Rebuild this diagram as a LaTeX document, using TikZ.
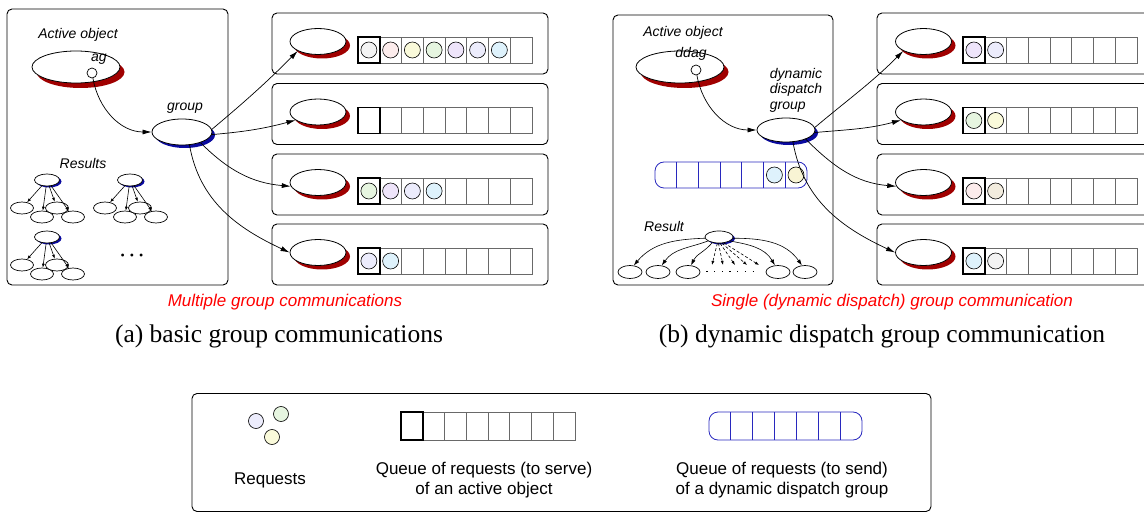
\documentclass[tikz,border=0pt]{standalone}
\usepackage{fontspec}
\setmainfont{Liberation Serif}
\setsansfont{Liberation Sans}
\usepackage{tikz}
\usetikzlibrary{shapes,arrows,positioning,shapes.geometric,arrows.meta,shadows}
\definecolor{shadowred}{RGB}{160,0,0}
\definecolor{shadowblue}{RGB}{10,10,160}
\definecolor{queueblue}{RGB}{40,40,190}
\definecolor{cellgray}{RGB}{105,105,105}
\definecolor{reqgray}{RGB}{243,243,243}
\definecolor{reqpink}{RGB}{252,236,236}
\definecolor{reqyellow}{RGB}{250,250,218}
\definecolor{reqgreen}{RGB}{230,245,224}
\definecolor{reqlilac}{RGB}{238,228,250}
\definecolor{reqblue}{RGB}{236,236,252}
\definecolor{reqcyan}{RGB}{222,242,252}
\definecolor{reqbeige}{RGB}{242,236,222}
\definecolor{reqsand}{RGB}{248,244,212}
\tikzstyle{panel} = [rectangle, draw, rounded corners=5pt, line width=0.9pt, inner sep=0pt]
\tikzstyle{line} = [draw, line width=0.7pt, -{Latex[length=9pt,width=5pt]}]

\begin{document}
\begin{tikzpicture}[x=1pt, y=-1pt]
    \tikzstyle{itext} = [font=\sffamily\itshape\fontsize{14}{15.5}\selectfont, inner sep=0pt]
    \tikzstyle{figcaption} = [font=\rmfamily\fontsize{25.5}{28}\selectfont, inner sep=0pt]
    \tikzstyle{redtext} = [font=\sffamily\itshape\fontsize{17}{20}\selectfont, text=red, inner sep=0pt]
    \tikzstyle{legendtext} = [font=\sffamily\fontsize{17}{20.5}\selectfont, align=center, inner sep=0pt]
    \tikzstyle{obj} = [ellipse, draw, fill=white, line width=0.8pt, inner sep=0pt, minimum width=56pt, minimum height=26pt, drop shadow={shadow xshift=4pt, shadow yshift=-4pt, fill=shadowred, opacity=1}]
    \tikzstyle{bigobj} = [ellipse, draw, fill=white, line width=0.8pt, inner sep=0pt, minimum width=88pt, minimum height=32pt, drop shadow={shadow xshift=4.5pt, shadow yshift=-5pt, fill=shadowred, opacity=1}]
    \tikzstyle{grp} = [ellipse, draw, fill=white, line width=0.8pt, inner sep=0pt, minimum width=60pt, minimum height=26pt, drop shadow={shadow xshift=3pt, shadow yshift=-3pt, fill=shadowblue, opacity=1}]
    \tikzstyle{resroot} = [ellipse, draw, fill=white, line width=0.7pt, inner sep=0pt, minimum width=25pt, minimum height=12pt, drop shadow={shadow xshift=2pt, shadow yshift=-1.5pt, fill=shadowblue, opacity=1}]
    \tikzstyle{resleaf} = [ellipse, draw, fill=white, line width=0.7pt, inner sep=0pt, minimum width=23pt, minimum height=12pt]
    \tikzstyle{qcell} = [rectangle, draw=cellgray, line width=0.8pt, inner sep=0pt, outer sep=0pt, minimum width=21.75pt, minimum height=26pt]
    \tikzstyle{sendq} = [rectangle, draw=queueblue, line width=0.8pt, rounded corners=9pt, inner sep=0pt, minimum height=26pt]
    \tikzstyle{req} = [circle, draw, line width=0.6pt, inner sep=0pt, minimum size=16pt]
    \tikzstyle{handle} = [circle, draw, fill=white, line width=0.7pt, inner sep=0pt, minimum size=10pt]
    \tikzstyle{midline} = [draw, line width=0.6pt, -{Latex[length=6pt,width=4pt]}]
    \tikzstyle{smallline} = [draw, line width=0.6pt, -{Latex[length=4pt,width=3pt]}]
    \tikzstyle{dashline} = [smallline, dash pattern=on 3pt off 2pt]

    \useasboundingbox (0,0) rectangle (1144,513);

    % Basic group communications
    \node [panel, minimum width=221pt, minimum height=276pt] (panela) at (117.5,147) {};
    \node [itext] (aotexta) at (78,35) {Active object};
    \node [bigobj] (aoa) at (76,67) {};
    \node [itext] (agtext) at (99,59) {ag};
    \node [handle] (ag) at (92,73) {};
    \node [grp] (group) at (182,132) {};
    \node [itext] (grouptext) at (185,108) {group};
    \path [line] (ag) to[out=-80, in=180] (group);

    % Results
    \node [itext] (resultstext) at (83,163) {Results};
    \foreach \t/\x/\y in {1/47/180, 2/130/180, 3/47/237} {
        \node [resroot] (res\t) at (\x,\y) {};
        \foreach \dx/\dy [count=\k] in {-25/28, -5/37, 10/28, 26/37} {
            \node [resleaf] (res\t-\k) at (\x+\dx,\y+\dy) {};
            \path [smallline] (res\t) -- (res\t-\k);
        }
    }
    \node [font=\fontsize{12}{12}\selectfont, inner sep=0pt] (moreres) at (132,257) {\textbullet\hspace{5pt}\textbullet\hspace{5pt}\textbullet};

    % Active objects and their queues
    \foreach \r/\y in {1/43.5, 2/114, 3/184.5, 4/254.5} {
        \node [panel, minimum width=276pt, minimum height=61pt] (boxa\r) at (410,\y) {};
        \node [obj] (obja\r) at (318,\y-2) {};
        \foreach \i in {1,...,8}
            \node [qcell] (qa\r-\i) at (347.125+21.75*\i,\y+6.5) {};
        \draw [line width=1.8pt] (qa\r-1.north west) rectangle (qa\r-1.south east);
    }
    \foreach \c [count=\i] in {reqgray, reqpink, reqyellow, reqgreen, reqlilac, reqblue, reqcyan}
        \node [req, fill=\c] (ra1-\i) at (qa1-\i) {};
    \foreach \c [count=\i] in {reqgreen, reqlilac, reqblue, reqcyan}
        \node [req, fill=\c] (ra3-\i) at (qa3-\i) {};
    \foreach \c [count=\i] in {reqblue, reqcyan}
        \node [req, fill=\c] (ra4-\i) at (qa4-\i) {};

    \path [line] (group.5) to[out=40, in=225] (obja1.205);
    \path [line] (group.-5) to[out=5, in=195] (obja2.200);
    \path [line] (group.-30) to[out=-45, in=175] (obja3.188);
    \path [line] (group.-60) to[out=-80, in=155] (obja4.180);

    % Dynamic dispatch group communication
    \node [panel, minimum width=220pt, minimum height=270pt] (panelb) at (723,150) {};
    \node [itext] (aotextb) at (683,33) {Active object};
    \node [bigobj] (aob) at (680,67) {};
    \node [itext] (ddagtext) at (691,54) {ddag};
    \node [handle] (ddag) at (696,70) {};
    \node [grp, minimum width=58pt, minimum height=24pt] (ddg) at (786,130) {};
    \node [itext, align=left] (ddgtext) at (796,90) {dynamic\\dispatch\\group};
    \path [line] (ddag) to[out=-80, in=180] (ddg);

    % Queue of the dynamic dispatch group
    \node [sendq, minimum width=152pt] (sendqueue) at (731,175) {};
    \foreach \i in {1,...,6}
        \draw [queueblue, line width=0.8pt] (655+21.7*\i,162) -- (655+21.7*\i,188);
    \node [req, fill=reqcyan] (sq6) at (774.4,175) {};
    \node [req, fill=reqsand] (sq7) at (796,175) {};

    % Result
    \node [itext] (resulttext) at (664,226) {Result};
    \node [resroot, minimum width=28pt] (rroot) at (719,237) {};
    \foreach \x [count=\k] in {630, 658, 688, 778, 805}
        \node [resleaf, minimum width=24pt, minimum height=13pt] (rleaf\k) at (\x,272) {};
    \path [midline] (rroot.185) to[out=182, in=50] (rleaf1.60);
    \path [midline] (rroot.200) to[out=200, in=55] (rleaf2.60);
    \path [midline] (rroot.220) to[out=230, in=65] (rleaf3.65);
    \path [midline] (rroot.-20) to[out=-10, in=120] (rleaf4.115);
    \path [midline] (rroot.-5) to[out=0, in=125] (rleaf5.115);
    \foreach \a/\x [count=\k] in {-105/712, -95/723, -80/735, -65/747, -50/759} {
        \coordinate (dash\k) at (\x,265);
        \path [dashline] (rroot.\a) -- (dash\k);
    }
    \draw [line width=1pt, dash pattern=on 1.2pt off 6.5pt, shorten <=6pt, shorten >=6pt] (rleaf3) -- (rleaf4);

    % Active objects behind the dynamic dispatch group
    \foreach \r/\y in {1/43.5, 2/114, 3/184.5, 4/254.5} {
        \node [panel, minimum width=280pt, minimum height=61pt] (boxb\r) at (1017,\y) {};
        \node [obj] (objb\r) at (923.5,\y-2) {};
        \foreach \i in {1,...,8}
            \node [qcell] (qb\r-\i) at (952.125+21.75*\i,\y+6.5) {};
        \draw [line width=1.8pt] (qb\r-1.north west) rectangle (qb\r-1.south east);
    }
    \foreach \r/\ca/\cb in {1/reqlilac/reqblue, 2/reqgreen/reqyellow, 3/reqpink/reqbeige, 4/reqcyan/reqgray} {
        \node [req, fill=\ca] (rb\r-1) at (qb\r-1) {};
        \node [req, fill=\cb] (rb\r-2) at (qb\r-2) {};
    }

    \path [line] (ddg.5) to[out=40, in=225] (objb1.205);
    \path [line] (ddg.-5) to[out=5, in=195] (objb2.200);
    \path [line] (ddg.-25) to[out=-45, in=175] (objb3.188);
    \path [line] (ddg.-60) to[out=-80, in=155] (objb4.180);

    % Captions
    \node [redtext] (notea) at (285,302) {Multiple group communications};
    \node [redtext] (noteb) at (892,302) {Single (dynamic dispatch) group communication};
    \node [figcaption] (captiona) at (279,336) {(a) basic group communications};
    \node [figcaption] (captionb) at (882,336) {(b) dynamic dispatch group communication};

    % Legend
    \node [panel, minimum width=739pt, minimum height=118pt] (legend) at (561.5,452.5) {};
    \node [req, fill=reqblue, minimum size=15pt] (lreq1) at (256,421) {};
    \node [req, fill=reqgreen, minimum size=15pt] (lreq2) at (281,414) {};
    \node [req, fill=reqyellow, minimum size=15pt] (lreq3) at (272,437) {};
    \node [legendtext] (reqtext) at (270,480) {Requests};
    \foreach \i in {1,...,8}
        \node [qcell, minimum height=28pt] (lq-\i) at (390.125+21.75*\i,426) {};
    \draw [line width=1.8pt] (lq-1.north west) rectangle (lq-1.south east);
    \node [legendtext] (lqtext) at (484,480) {Queue of requests (to serve)\\of an active object};
    \node [sendq, minimum width=153pt, minimum height=28pt] (lsendq) at (785.5,426) {};
    \foreach \i in {1,...,6}
        \draw [queueblue, line width=0.8pt] (709+21.85*\i,412) -- (709+21.85*\i,440);
    \node [legendtext] (lsqtext) at (782,480) {Queue of requests (to send)\\of a dynamic dispatch group};

\end{tikzpicture}
\end{document}
